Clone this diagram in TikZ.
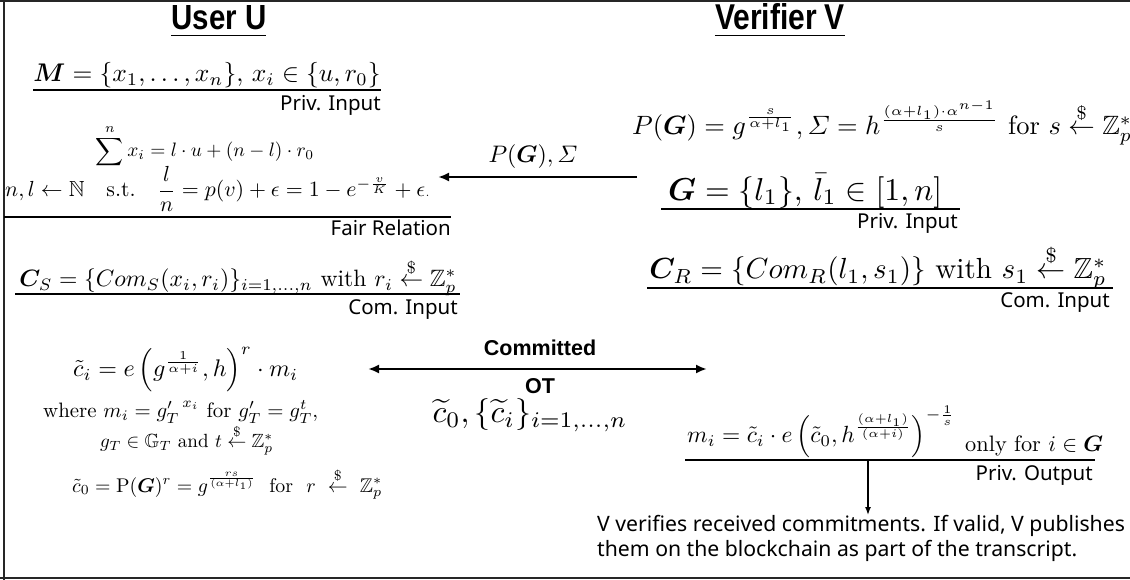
\documentclass[tikz,border=0pt]{standalone}
\usepackage{amsmath,amssymb,bm}
\usepackage{graphicx}
\usepackage{fontspec}
\newfontfamily\labfont{Noto Sans}
\newfontfamily\ttlfont{Liberation Sans}
\usetikzlibrary{arrows.meta}
\newcommand{\rnd}{\overset{\$}{\leftarrow}}
\tikzset{
  lab/.style={font=\labfont\fontsize{20.5}{22}\selectfont, inner sep=0pt},
  ttl/.style={font=\ttlfont\bfseries, inner sep=0pt},
  fml/.style={inner sep=0pt},
  rule/.style={line width=1.6pt},
  msg/.style={line width=2.4pt, -{Latex[length=11pt,width=9pt]}},
  bimsg/.style={line width=2.4pt, {Latex[length=11pt,width=9pt]}-{Latex[length=11pt,width=9pt]}},
  frame/.style={line width=2pt, draw=black!85}
}
\begin{document}
\begin{tikzpicture}[x=1pt,y=-1pt]
\useasboundingbox (0,0) rectangle (1130,580);
% frame
\draw[frame] (0,1) -- (1130,1);
\draw[frame] (4,0) -- (4,580);
\draw[frame] (0,578) -- (1130,578);

% titles
\node[ttl] (tu) at (219,18) {\resizebox{95pt}{24pt}{User U}};
\draw[line width=1.6pt] (tu.south west)++(0,5) -- ++(95,0);
\node[ttl] (tv) at (780,17) {\resizebox{130pt}{26pt}{Verifier V}};
\draw[line width=1.6pt] (tv.south west)++(0,5) -- ++(130,0);

% ---- User side
\node[fml] (m) at (207,75) {\resizebox{347pt}{!}{$\bm{M} = \{x_1,\ldots,x_n\},\, x_i \in \{u, r_0\}$}};
\draw[rule] (33,90) -- (381,90);
\node[lab, anchor=north east] (pi1) at (381,95) {Priv. Input};

\node[fml] (sum) at (205,146) {\resizebox{218pt}{!}{$\displaystyle\sum^{n} x_i = l\cdot u + (n-l)\cdot r_0$}};
\node[fml, anchor=west] (fr) at (5,189) {\resizebox{425pt}{!}{$n,l \leftarrow \mathbb{N}\quad \text{s.t.}\quad \dfrac{l}{n} = p(v)+\epsilon = 1 - e^{-\frac{v}{K}} + \epsilon{\scriptscriptstyle .}$}};
\draw[rule] (4,217) -- (451,217);
\node[lab, anchor=north east] (frl) at (451,220) {Fair Relation};

\node[fml] (cs) at (238,277) {\resizebox{437pt}{!}{$\bm{C}_S = \{Com_S(x_i,r_i)\}_{i=1,\ldots,n} \text{ with } r_i \rnd \mathbb{Z}_p^*$}};
\draw[rule] (15,294) -- (460,294);
\node[lab, anchor=north east] (ci1) at (458,299) {Com. Input};

\node[fml, anchor=west] (ci) at (73,370) {\resizebox{225pt}{!}{$\tilde{c}_i = e\left(g^{\frac{1}{\alpha+i}}, h\right)^r \cdot m_i$}};
\node[fml, anchor=west] (wh) at (43,412) {\resizebox{275pt}{!}{$\text{where } m_i = {g'_T}^{\,x_i} \text{ for } g'_T = g_T^t,$}};
\node[fml, anchor=west] (gt) at (100,440) {\resizebox{173pt}{!}{$g_T \in \mathbb{G}_T \text{ and } t \rnd \mathbb{Z}_p^*$}};
\node[fml, anchor=west] (c0) at (72,484) {\resizebox{310pt}{!}{$\tilde{c}_0 = \mathrm{P}(\bm{G})^r = g^{\frac{rs}{(\alpha+l_1)}} \text{ \ for \ } r \ \rnd\ \mathbb{Z}_p^*$}};

% ---- Verifier side
\node[fml, anchor=west] (pg) at (632,123) {\resizebox{500pt}{!}{$P(\bm{G}) = g^{\frac{s}{\alpha+l_1}}, \varSigma = h^{\frac{(\alpha+l_1)\cdot\alpha^{n-1}}{s}} \text{ for } s \rnd \mathbb{Z}_p^*$}};
\node[fml, anchor=west] (g) at (668,191) {\resizebox{274pt}{!}{$\bm{G} = \{l_1\},\, \bar{l}_1 \in [1,n]$}};
\draw[rule] (661,209) -- (960,209);
\node[lab, anchor=north east] (pi2) at (958,213) {Priv. Input};

\node[fml] (cr) at (878,267) {\resizebox{457pt}{!}{$\bm{C}_R = \{Com_R(l_1,s_1)\} \text{ with } s_1 \rnd \mathbb{Z}_p^*$}};
\draw[rule] (647,288) -- (1113,288);
\node[lab, anchor=north east] (ci2) at (1110,292) {Com. Input};

\node[fml, anchor=west] (mi) at (687,432) {\resizebox{268pt}{!}{$m_i = \tilde{c}_i \cdot e\left(\tilde{c}_0, h^{\frac{(\alpha+l_1)}{(\alpha+i)}}\right)^{-\frac{1}{s}}$}};
\node[fml, anchor=west] (of) at (965,446) {\resizebox{138pt}{!}{$\text{only for } i \in \bm{G}$}};
\draw[rule] (685,460) -- (1095,460);
\node[lab, anchor=north east] (po) at (1093,465) {Priv. Output};

\coordinate (dtop) at (868,461);
\node[lab, anchor=north west, align=left, font=\labfont\fontsize{21.2}{25}\selectfont] (vt) at (597,515) {V verifies received commitments. If valid, V publishes\\them on the blockchain as part of the transcript.};
\draw[line width=1.4pt, -{Latex[length=8pt,width=6pt]}] (dtop) -- (dtop |- vt.north);

% ---- messages
\coordinate (a1r) at (637,177);
\coordinate (a1l) at (438,177);
\draw[msg] (a1r) -- (a1l);
\node[fml] (pgl) at (533,157) {\resizebox{89pt}{!}{$P(\bm{G}), \varSigma$}};

\coordinate (a2l) at (368,369);
\coordinate (a2r) at (707,369);
\draw[bimsg] (a2l) -- (a2r);
\node[ttl] (cm) at (540,348) {\fontsize{21.5}{22}\selectfont Committed};
\node[ttl] (ot) at (540,386) {\fontsize{21.5}{22}\selectfont OT};
\node[fml] (cc) at (530,415) {\resizebox{195pt}{!}{$\widetilde{c}_0, \{\widetilde{c}_i\}_{i=1,\ldots,n}$}};
\end{tikzpicture}
\end{document}
